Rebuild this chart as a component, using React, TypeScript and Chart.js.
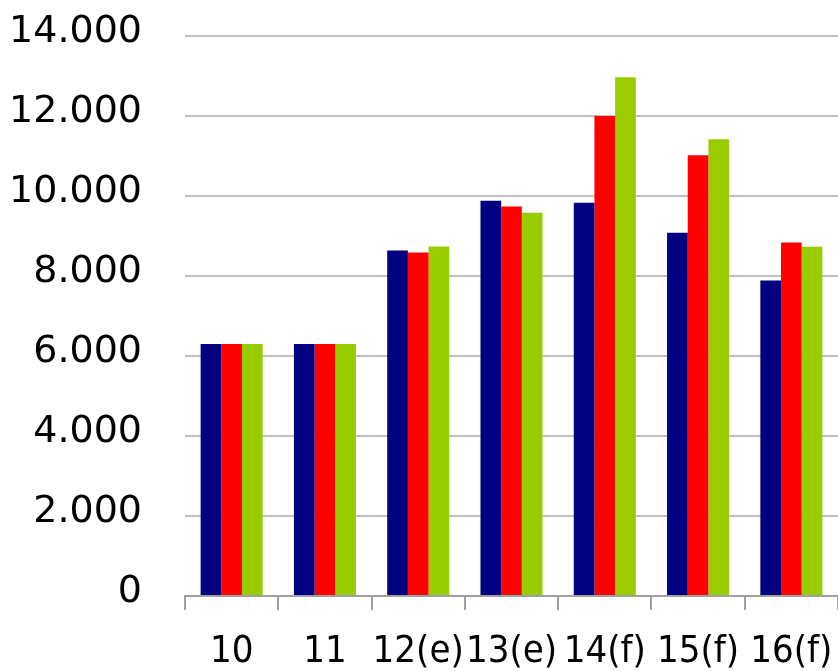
import React, { useEffect, useRef } from "react";
import { Chart, registerables } from "chart.js";

Chart.register(...registerables);

const categories = ["10", "11", "12(e)", "13(e)", "14(f)", "15(f)", "16(f)"];
const seriesNavy = [6300, 6300, 8640, 9880, 9830, 9080, 7890];
const seriesRed = [6300, 6300, 8590, 9740, 12000, 11020, 8840];
const seriesGreen = [6300, 6300, 8740, 9580, 12970, 11420, 8730];
const yTicks = [0, 2000, 4000, 6000, 8000, 10000, 12000, 14000];

const fmt = (v: number) => {
  const s = String(Math.round(v));
  return s.replace(/\B(?=(\d{3})+(?!\d))/g, ".");
};

export default function App() {
  const ref = useRef<HTMLCanvasElement | null>(null);
  useEffect(() => {
    if (!ref.current) return;
    const chart = new Chart(ref.current, {
      type: "bar",
      data: {
        labels: categories,
        datasets: [
          { data: seriesNavy, backgroundColor: "#000080" },
          { data: seriesRed, backgroundColor: "#FF0000" },
          { data: seriesGreen, backgroundColor: "#99CC00" },
        ],
      },
      options: {
        animation: false,
        responsive: false,
        maintainAspectRatio: false,
        layout: { padding: { top: 36, left: 0, right: 0, bottom: 0 } },
        plugins: { legend: { display: false }, tooltip: { enabled: false } },
        datasets: { bar: { barPercentage: 1, categoryPercentage: 0.665 } },
        scales: {
          x: {
            grid: {
              display: true,
              drawOnChartArea: false,
              drawTicks: true,
              tickLength: 14,
              color: "#a0a0a0",
              lineWidth: 2,
              offset: true,
            },
            border: { display: true, color: "#a0a0a0", width: 2 },
            ticks: {
              color: "#000",
              font: { family: "'DejaVu Sans Condensed', 'DejaVu Sans'", size: 38 },
              padding: 19,
              maxRotation: 0,
              autoSkip: false,
            },
            afterFit: (s: any) => {
              s.height = 75;
              s.paddingLeft = 0;
              s.paddingRight = 0;
            },
          },
          y: {
            min: 0,
            max: 14000,
            afterBuildTicks: (s: any) => {
              s.ticks = yTicks.map((v) => ({ value: v }));
            },
            grid: { color: "#c0c0c0", lineWidth: 2, drawTicks: false },
            border: { display: false },
            ticks: {
              color: "#000",
              font: { family: "'DejaVu Sans'", size: 38 },
              padding: 43,
              labelOffset: -4,
              callback: (v: any) => fmt(Number(v)),
            },
            afterFit: (s: any) => {
              s.width = 185;
              s.paddingTop = 0;
              s.paddingBottom = 0;
            },
          },
        },
      },
    });
    return () => chart.destroy();
  }, []);
  return (
    <div style={{ position: "fixed", left: 0, top: 0, width: 838, height: 671, background: "#fff" }}>
      <canvas ref={ref} width={838} height={671} style={{ display: "block" }} />
    </div>
  );
}
